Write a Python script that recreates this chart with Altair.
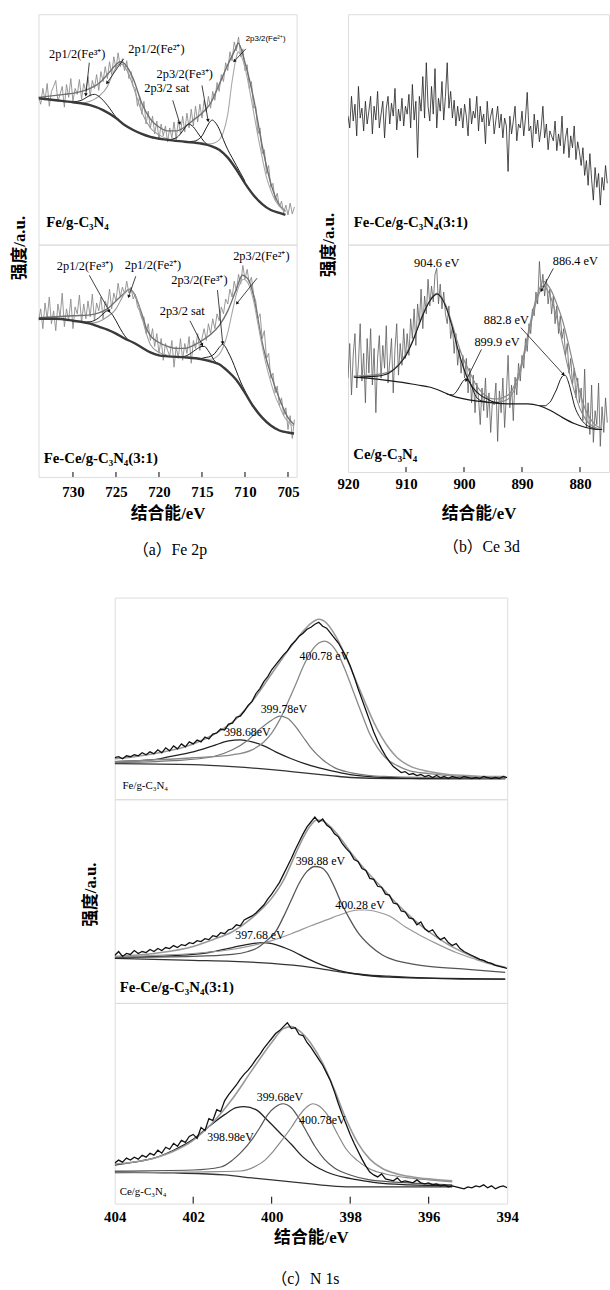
import math
import altair as alt
import pandas as pd

SERIF = "Liberation Serif, Noto Sans CJK SC"
SANS = "Liberation Sans, Noto Sans CJK SC"

# ---------------- (a) Fe 2p ----------------
A_DOMAIN = [734, 704]
A_TICKS = [730, 725, 720, 715, 710, 705]
A_RAW_START, A_RAW_STEP = 734.0, 0.25
A1_RAW = [150, 142, 158, 146, 163, 140, 155, 160, 166, 145, 152, 160, 139, 162, 149, 168, 145, 158, 152, 167,
          147, 163, 155, 170, 150, 166, 158, 172,
          156, 175, 165, 180, 168, 185, 172, 190, 178, 194, 180, 188, 176,
          186, 168, 175, 160, 158, 140, 150, 132,
          145, 122, 135, 118, 130, 112, 125, 106, 122, 110, 120, 104,
          118, 108, 124, 106, 126, 112, 130, 114, 133, 118, 137, 120, 140, 124, 142, 128,
          146, 134, 150, 138, 155, 146, 164, 155, 172, 165, 184, 176, 195, 186, 205, 196,
          210, 190, 198, 176, 182, 158, 165, 138,
          140, 112, 118, 92, 96, 72, 80, 58,
          62, 45, 52, 38, 44, 32, 40, 30, 42, 31, 38]
A1_BG = [(734, 148), (732, 146), (730, 144), (728, 141), (726.5, 136), (725, 128), (724, 121), (723, 116), (722, 112),
         (721, 109), (719, 106), (717, 104), (715, 102), (714, 100), (713, 96), (712, 88), (711, 76), (710, 62),
         (709, 50), (708, 41), (707, 35), (706, 32), (705.3, 30)]
A1_ENV = [(734, 149), (733, 150), (732, 151), (731, 152), (730, 153), (729, 155), (728, 158), (727, 163), (726, 172),
          (725, 182), (724.5, 185), (724, 183), (723, 168), (722, 143), (721, 127), (720, 119), (719, 115), (718, 115),
          (717, 119), (716, 126), (715, 133), (714, 143), (713, 162), (712, 182), (711, 200), (710.8, 204), (710, 184),
          (709, 148), (708, 100), (707, 62), (706, 40), (705.3, 34)]
A1_FE3_12 = [(731, 145), (730, 144.5), (729, 146), (728.5, 148.5), (728, 151), (727.5, 152), (727, 150), (726.5, 146),
             (726, 141), (725.5, 135), (725, 129), (724, 121.5)]
A1_FE2_12 = [(729, 143), (728, 145), (727, 150), (726, 160), (725.5, 170), (725, 179), (724.5, 183), (724, 180),
             (723.5, 172), (723, 160), (722.5, 147), (722, 134), (721, 118), (720, 111), (719, 107), (718, 105)]
A1_SAT = [(719, 106), (718, 108), (717.5, 112), (717, 118), (716.6, 122), (716, 119), (715.5, 113), (715, 107),
          (714.5, 102), (714, 100)]
A1_FE3_32 = [(717, 104), (716, 104.5), (715.5, 106), (715, 110), (714.5, 118), (714, 125), (713.8, 126), (713.5, 124),
             (713, 117), (712.5, 106), (712, 96), (711.5, 88), (711, 80), (710.5, 72), (710, 64)]
A1_FE2_32 = [(716, 104), (715, 103), (714, 102), (713, 106), (712.5, 114), (712, 132), (711.5, 165), (711, 190),
             (710.8, 195), (710.5, 192), (710, 179), (709.5, 158), (709, 134), (708.5, 110), (708, 88), (707.5, 68),
             (707, 55), (706.5, 45), (706, 39), (705.3, 33)]
A1_LABELS = [(729.5, 193, "2p1/2(Fe³⁺)"), (720.3, 198, "2p1/2(Fe²⁺)"), (717.0, 173, "2p3/2(Fe³⁺)"),
             (719.1, 158, "2p3/2 sat")]
A1_SMALL = [(707.6, 208, "2p3/2(Fe²⁺)")]
A1_LEADERS = [(728.1, 184, 728.5, 152), (724.1, 188, 726.0, 164), (718.4, 146, 717.6, 123),
              (715.0, 161, 714.3, 126), (709.9, 198, 711.2, 186)]

A2_RAW = [158, 170, 150, 176, 160, 182, 155, 168, 148, 175, 162, 186, 152, 170, 158, 180, 150, 172, 165, 184,
          156, 175, 160, 178, 162, 185, 158, 176,
          168, 182, 160, 178, 172, 190, 170, 186, 178, 196, 182, 192, 185,
          198, 186, 192, 180, 185, 172, 168, 160,
          162, 145, 155, 138, 150, 132, 145, 125, 140, 118, 135, 128,
          122, 138, 111, 132, 120, 140, 118, 135, 125, 142, 115, 138, 130, 145, 128, 140,
          150, 138, 155, 145, 160, 150, 165, 158, 172, 165, 180, 175, 190, 182, 198, 188,
          205, 195, 214, 200, 210, 196, 202, 185,
          178, 160, 165, 140, 148, 120, 125, 100,
          105, 85, 92, 72, 80, 62, 70, 48, 62, 39, 58]
A2_BG = [(734, 160), (732, 160), (730, 158), (728, 155), (727, 152), (726, 149), (725, 145), (724, 140), (723, 136),
         (722, 131), (721, 126), (720, 123), (719, 122), (717, 121), (715, 119), (714, 117), (713, 114), (712, 107),
         (711, 98), (710, 85), (709, 71), (708, 60), (707, 52), (706, 47), (705, 45), (704.3, 44)]
A2_ENV = [(734, 161), (732, 162), (730, 163), (728, 164), (727, 166), (726, 170), (725, 178), (724, 186), (723.4, 190),
          (723, 187), (722, 165), (721.5, 151), (721, 143), (720, 136), (719, 132), (718, 130), (717, 130), (716, 133),
          (715, 138), (714, 144), (713, 153), (712, 168), (711, 190), (710.3, 204), (710, 203), (709.5, 198),
          (709, 183), (708.5, 160), (708, 136), (707, 104), (706, 79), (705, 60), (704.3, 53)]
A2_FE3_12 = [(729, 156.5), (728, 157), (727, 161), (726.5, 165), (726, 168), (725.5, 165), (725, 158), (724.5, 150),
             (724, 143), (723.5, 138), (723, 136)]
A2_FE2_12 = [(728, 155.5), (727, 157), (726, 162), (725, 170), (724.5, 178), (724, 186), (723.4, 190), (723, 187),
             (722.5, 178), (722, 162), (721.5, 146), (721, 134), (720, 126), (719, 123)]
A2_SAT = [(718, 121), (717, 122), (716.5, 124), (716, 127), (715.5, 130), (715, 132), (714.7, 132), (714.3, 128),
          (714, 124), (713.5, 117), (713, 114)]
A2_FE3_32 = [(715.5, 119.5), (715, 120), (714.5, 121), (714, 122), (713.5, 125), (713, 131), (712.6, 134),
             (712.3, 132), (712, 127), (711.5, 118), (711, 107), (710.5, 96), (710, 87), (709.5, 78), (709, 71)]
A2_FE2_32 = [(715, 119), (714, 119), (713, 124), (712.5, 132), (712, 146), (711.5, 166), (711, 185), (710.5, 197),
             (710.2, 200), (709.8, 198), (709.3, 188), (709, 178), (708.5, 155), (708, 132), (707.5, 112), (707, 96),
             (706.5, 82), (706, 72), (705.5, 62), (705, 56), (704.3, 51)]
A2_LABELS = [(728.6, 213, "2p1/2(Fe³⁺)"), (720.7, 214, "2p1/2(Fe²⁺)"), (708.1, 223, "2p3/2(Fe²⁺)"),
             (715.3, 199, "2p3/2(Fe³⁺)"), (717.3, 168, "2p3/2 sat")]
A2_LEADERS = [(728.1, 204, 725.8, 168), (722.7, 203, 723.5, 183), (713.2, 189, 712.6, 136),
              (716.4, 158, 715.0, 134), (708.6, 201, 710.9, 176)]

# ---------------- (b) Ce 3d ----------------
B_DOMAIN = [920, 875]
B_TICKS = [920, 910, 900, 890, 880]
B_RAW_START, B_RAW_STEP = 920.0, 0.3
B1_RAW = [130, 118, 150, 125, 142, 110, 160, 128, 138, 115, 145, 122, 135, 150, 112, 140, 126, 155, 118, 132,
          145, 108, 138, 150, 122, 143, 130, 158, 116, 137, 125, 148, 120, 140,
          132, 152, 118, 162, 126, 145, 88, 150, 135, 170, 128, 184, 140, 125, 160, 132, 178, 118, 148, 135,
          165, 126, 150, 184, 138, 155, 128, 146, 120, 140,
          125, 138, 118, 142, 130, 110, 148, 122, 135, 128, 150, 115, 140, 124, 132, 102, 145, 120, 130, 138,
          112, 126, 140, 118, 132, 108, 128,
          120, 74, 130, 112, 125, 140, 105, 122, 118, 135, 110, 128, 154, 115, 120, 98, 132, 112, 126, 104,
          118, 140, 108, 122, 96, 115, 110,
          105, 125, 95, 112, 100, 130, 92, 108, 118, 88, 110, 98, 120, 86, 104, 94,
          80, 98, 70, 85, 60, 92, 66, 45, 78, 58, 72, 40, 68, 55, 80, 62]
B2_RAW = [95, 130, 78, 118, 140, 85, 110, 150, 92, 120, 70, 135, 100, 145, 88, 125, 60, 115, 138, 95, 128, 105, 148, 90,
          112, 135, 80, 125, 150, 98, 130, 108, 145, 115,
          140, 118, 155, 135, 165, 128, 170, 150, 185, 145, 178, 160, 195, 168, 188, 172, 200,
          206, 170, 190, 165, 182, 160,
          150, 168, 135, 148, 120, 140, 108, 125, 100, 118,
          95, 115, 80, 105, 70, 98, 60, 90, 75, 48, 85, 62, 95, 55, 80, 40, 72,
          68, 90, 31, 82, 60, 95, 45, 78, 118, 65, 88, 52, 96, 78, 110, 92,
          118, 105, 135, 122, 150, 140, 165, 158, 182, 170, 213, 185, 200, 178,
          195, 170, 185, 160, 178, 150, 168, 140, 158, 135,
          145, 118, 130, 100, 115, 88, 105, 75, 95, 70,
          85, 52, 104, 45, 70, 38, 88, 30, 62, 48, 90, 26, 66, 40, 75, 50]
B2_BG = [(919, 96), (915, 94), (911, 91), (908, 88), (906, 86), (904, 82), (902, 77), (900, 74), (898, 72), (895, 70),
         (892, 69), (889, 69), (887, 67), (885, 62), (883, 55), (881, 49), (879, 45), (877, 43), (876.2, 43)]
B2_ENV = [(919, 97), (916, 98), (913, 101), (911, 111), (909, 131), (907, 161), (905, 180), (904.6, 181), (904, 178),
          (903, 167), (902, 149), (901, 129), (900, 113), (899, 101), (898, 89), (897, 81), (896, 76), (895, 74),
          (894, 74), (893, 76), (892, 80), (891, 92), (890, 112), (889, 139), (888, 166), (887, 185), (886.4, 193),
          (886, 192), (885, 184), (884, 170), (883, 153), (882, 130), (881, 104), (880, 80), (879, 62), (878, 52),
          (877, 46), (876.2, 44)]
B2_P904 = [(918, 96), (915, 97), (913, 100), (912, 104), (911, 110), (910, 118), (909, 130), (908, 145), (907, 160),
           (906, 172), (905, 179), (904.6, 180), (904, 177), (903, 165), (902, 146), (901, 123), (900, 104), (899, 90),
           (898, 82), (897, 77), (896, 74), (895, 71), (894, 70)]
B2_P899 = [(903, 79), (902, 78), (901.5, 80), (901, 84), (900.5, 89), (900, 93), (899.6, 94), (899, 91), (898.5, 84),
           (898, 77), (897, 72), (896, 71)]
B2_P886 = [(895, 70), (893, 72), (892, 76), (891, 88), (890, 108), (889, 135), (888, 162), (887, 181), (886.4, 188),
           (886, 187), (885, 176), (884, 156), (883, 130), (882, 104), (881, 82), (880, 64), (879, 53), (878, 47),
           (877, 44), (876.2, 43)]
B2_P882 = [(887, 67), (886, 67), (885.5, 69), (885, 72), (884.5, 78), (884, 84), (883.5, 92), (883, 97), (882.6, 98),
           (882, 91), (881.5, 80), (881, 68), (880, 55), (879, 48), (878, 45), (877, 43), (876.2, 43)]
B2_LABELS = [(904.7, 211, "904.6 eV"), (880.8, 213, "886.4 eV"), (892.7, 154, "882.8 eV"), (894.3, 131, "899.9 eV")]
B2_LEADERS = [(884.6, 206, 886.6, 184), (890.2, 146, 882.9, 99), (897.0, 124, 899.6, 93)]

# ---------------- (c) N 1s ----------------
C_DOMAIN = [404, 394]
C_TICKS = [404, 402, 400, 398, 396, 394]
C_RAW_START, C_RAW_STEP = 404.0, 0.1
C1_DATA = [42, 43, 41, 44, 43, 45, 44, 47, 45, 48, 46, 50, 47, 52, 49, 54, 51, 56, 53, 58,
           56, 60, 58, 63, 61, 66, 67, 71, 70, 76, 77, 83, 84, 89, 95, 99, 107, 112, 119, 124,
           131, 136, 141, 146, 150, 156, 160, 165, 168, 172, 174, 177, 179, 175, 173, 168, 163, 158, 151, 144,
           135, 124, 112, 101, 90, 79, 68, 59, 51, 44, 38, 33, 30, 27, 28, 25, 26, 24, 25, 23,
           24, 22, 24, 22, 23, 21, 23, 22, 21, 23, 22, 21, 22, 21, 23, 22, 21, 22, 21, 23, 22]
C1_ENV = [(404, 41), (403.5, 43), (403, 46), (402.5, 50), (402, 56), (401.5, 65), (401, 78), (400.5, 99), (400, 127),
          (399.5, 155), (399.2, 170), (399, 178), (398.8, 182), (398.6, 178), (398.4, 167), (398.2, 152), (398, 134),
          (397.8, 115), (397.6, 96), (397.4, 78), (397.2, 63), (397, 51), (396.8, 42), (396.5, 34), (396, 28),
          (395.5, 25), (395, 24), (394.5, 23), (394.05, 23)]
C1_P1 = [(404, 38), (402, 42), (401, 45), (400.5, 50), (400.2, 58), (400, 67), (399.8, 80), (399.6, 97), (399.4, 115),
         (399.2, 134), (399, 149), (398.8, 158), (398.65, 160), (398.5, 157), (398.3, 146), (398.1, 128),
         (397.9, 107), (397.7, 86), (397.5, 66), (397.3, 52), (397.1, 42), (396.8, 34), (396.5, 29), (396, 26),
         (395.5, 24), (395, 23), (394.05, 22)]
C1_P2 = [(404, 37), (402.5, 39), (401.5, 43), (401, 50), (400.6, 60), (400.3, 71), (400, 80), (399.8, 84), (399.6, 82),
         (399.4, 74), (399.2, 63), (399, 52), (398.7, 40), (398.4, 32), (398, 27), (397.5, 24), (397, 23), (396, 22),
         (394.05, 21)]
C1_P3 = [(404, 38), (403, 40), (402.5, 44), (402, 48), (401.5, 54), (401.1, 59), (400.8, 60), (400.5, 58), (400.2, 54),
         (399.9, 48), (399.5, 41), (399, 34), (398.5, 29), (398, 25), (397.5, 23), (397, 22), (396, 21), (394.05, 21)]
C1_BG = [(404, 36), (402, 35), (401, 33), (400, 30), (399.5, 28), (399, 26), (398.5, 24), (398, 22), (397, 21),
         (396, 21), (394.05, 21)]
C1_LABELS = [(398.66, 145, "400.78 eV"), (399.69, 91, "399.78eV"), (400.62, 68, "398.68eV")]

C2_DATA = [48, 52, 47, 50, 49, 53, 50, 52, 51, 54, 52, 55, 53, 56, 55, 58, 56, 59, 58, 61,
           60, 63, 62, 65, 64, 68, 67, 71, 70, 74, 75, 79, 78, 84, 86, 88, 91, 95, 99, 105,
           110, 116, 122, 130, 138, 146, 155, 163, 171, 178, 183, 188, 183, 186, 180, 177, 171, 168, 161, 156,
           152, 145, 143, 136, 134, 126, 125, 118, 117, 110, 109, 101, 100, 93, 92, 86, 85, 79, 82, 75,
           72, 74, 68, 64, 66, 61, 58, 60, 55, 52, 50, 48, 46, 44, 43, 41, 40, 38, 37, 36, 35]
C2_ENV = [(404, 47), (403, 50), (402, 57), (401.5, 64), (401, 72), (400.5, 86), (400, 106), (399.7, 124), (399.4, 150),
          (399.2, 167), (399, 180), (398.85, 185), (398.7, 184), (398.5, 178), (398.2, 164), (398, 153), (397.6, 134),
          (397.2, 117), (396.8, 100), (396.4, 85), (396, 72), (395.5, 59), (395, 49), (394.5, 41), (394.05, 36)]
C2_P1 = [(404, 46), (402, 47), (401, 49), (400.6, 52), (400.35, 56), (400.1, 64), (399.9, 72), (399.7, 87),
         (399.5, 104), (399.3, 121), (399.1, 133), (398.9, 138), (398.75, 137), (398.6, 132), (398.4, 117),
         (398.2, 99), (398, 84), (397.8, 71), (397.5, 58), (397.2, 49), (397, 45), (396.5, 40), (396, 37), (395, 34),
         (394.05, 31)]
C2_P2 = [(404, 46), (403, 48), (402, 50), (401.2, 53), (400.5, 58), (400, 63), (399.5, 70), (399, 78), (398.6, 84),
         (398.2, 90), (397.8, 94), (397.6, 94), (397.3, 92), (397, 88), (396.6, 77), (396.2, 68), (395.8, 60),
         (395.3, 51), (394.8, 44), (394.4, 39), (394.05, 36)]
C2_P3 = [(404, 45), (403, 47), (402, 49), (401.6, 51), (401, 56), (400.5, 60), (400.2, 61), (399.9, 59), (399.5, 53),
         (399.1, 45), (398.7, 38), (398.3, 33), (397.8, 29), (397, 26), (396, 25), (394.05, 24)]
C2_BG = [(404, 45), (403, 44), (402, 43), (401, 42), (400, 40), (399, 36), (398.5, 33), (398, 30), (397.5, 28),
         (397, 27), (396, 25), (395, 24), (394.05, 24)]
C2_LABELS = [(398.76, 143, "398.88 eV"), (397.75, 99, "400.28 eV"), (400.3, 69, "397.68 eV")]

C3_DATA = [41, 44, 42, 46, 44, 47, 45, 49, 47, 51, 49, 54, 51, 57, 55, 61, 58, 64, 62, 68,
           70, 66, 77, 74, 86, 84, 95, 93, 104, 110, 115, 120, 126, 131, 135, 140, 146, 151, 157, 162,
           167, 172, 175, 179, 183, 177, 178, 171, 170, 163, 158, 152, 146, 140, 132, 124, 113, 101, 90, 80,
           70, 61, 53, 45, 38, 32, 29, 27, 30, 25, 24, 23, 26, 22, 23, 22, 21, 24, 21, 20,
           21, 19, 20, 18, 19, 17, 18, 17, 16, 15, 17, 16, 18, 17, 19, 16, 18, 15, 17, 18, 16]
C3_ENV = [(404, 40), (403, 46), (402.5, 53), (402, 64), (401.5, 82), (401, 106), (400.5, 135), (400, 163), (399.7, 177),
          (399.5, 179), (399.3, 175), (399, 162), (398.7, 142), (398.4, 115), (398.1, 85), (397.8, 61), (397.5, 45),
          (397.2, 36), (396.8, 30), (396.4, 27), (396, 25), (395.4, 23)]
C3_P1 = [(404, 39), (403.5, 42), (403, 46), (402.5, 54), (402, 65), (401.6, 78), (401.2, 90), (400.9, 97), (400.7, 98),
         (400.4, 95), (400.1, 84), (399.8, 72), (399.5, 60), (399.2, 47), (398.9, 38), (398.6, 32), (398.2, 27),
         (397.8, 24), (397.3, 21), (396.5, 19), (395.4, 18)]
C3_P2 = [(404, 33), (402, 34), (401.3, 37), (401, 44), (400.8, 51), (400.5, 65), (400.3, 77), (400.1, 90), (399.9, 98),
         (399.72, 101), (399.5, 97), (399.3, 86), (399.1, 72), (398.9, 58), (398.66, 45), (398.4, 36), (398, 29),
         (397.5, 24), (396.5, 21), (395.4, 19)]
C3_P3 = [(404, 31), (402, 32), (400.8, 33), (400.4, 38), (400.17, 44), (400, 51), (399.8, 61), (399.5, 77), (399.3, 89),
         (399.1, 98), (398.96, 101), (398.8, 99), (398.6, 91), (398.33, 71), (398.1, 55), (397.83, 44), (397.5, 35),
         (397.1, 30), (396.5, 26), (396, 24), (395.4, 22)]
C3_BG = [(404, 32), (402.5, 31), (401.2, 29), (400.5, 26), (399.5, 22), (399, 20), (398.5, 18), (398, 17), (397, 17),
         (395.4, 17)]
C3_LABELS = [(399.79, 108, "399.68eV"), (398.71, 85, "400.78eV"), (401.05, 67, "398.98eV")]

SAMPLE_NAMES = {
    "a1": (733.1, 23, "Fe/g-C₃N₄"), "a2": (733.4, 19, "Fe-Ce/g-C₃N₄(3:1)"),
    "b1": (919.0, 23, "Fe-Ce/g-C₃N₄(3:1)"), "b2": (919.1, 18, "Ce/g-C₃N₄"),
    "c1": (403.8, 13, "Fe/g-C₃N₄"), "c2": (403.87, 16, "Fe-Ce/g-C₃N₄(3:1)"), "c3": (403.87, 12, "Ce/g-C₃N₄"),
}
Y_TITLE = "强度/a.u."
X_TITLE = "结合能/eV"
CAPTIONS = ["（a）Fe 2p", "（b）Ce 3d", "（c）N 1s"]


def raw_df(values, start, step):
    return pd.DataFrame({"E": [round(start - step * i, 3) for i in range(len(values))], "I": values})


def pts_df(points):
    return pd.DataFrame(points, columns=["E", "I"])


def panel(w, h, xdom, *, curves=(), texts=(), leaders=(), xaxis=None, yaxis=None, ticks=None, tick_len=5,
          captions=()):
    X = alt.X("E:Q", scale=alt.Scale(domain=xdom, nice=False, zero=False), axis=xaxis)
    Y = alt.Y("I:Q", scale=alt.Scale(domain=[0, h], nice=False, zero=False), axis=yaxis)
    px_per_e = w / abs(xdom[0] - xdom[1])
    layers = []
    for df, color, sw, interp in curves:
        layers.append(alt.Chart(df).mark_line(color=color, strokeWidth=sw, interpolate=interp, clip=True)
                      .encode(x=X, y=Y))
    if leaders:
        ldf = pd.DataFrame(leaders, columns=["E", "I", "E2", "I2"])
        layers.append(alt.Chart(ldf).mark_rule(color="#111", strokeWidth=0.8)
                      .encode(x=X, y=Y, x2="E2:Q", y2="I2:Q"))
        heads = []
        for e1, i1, e2, i2 in leaders:
            dx = -(e2 - e1) * px_per_e
            dy = -(i2 - i1)
            ang = (math.degrees(math.atan2(dx, -dy)) + 360) % 360
            heads.append((e2, i2, ang))
        hdf = pd.DataFrame(heads, columns=["E", "I", "ang"])
        layers.append(alt.Chart(hdf).mark_point(shape="triangle", filled=True, size=14, color="#111", opacity=1)
                      .encode(x=X, y=Y, angle=alt.Angle("ang:Q", scale=None)))
    if ticks:
        tdf = pd.DataFrame({"E": ticks})
        layers.append(alt.Chart(tdf).mark_rule(color="black", strokeWidth=1)
                      .encode(x=X, y=alt.value(h), y2=alt.value(h - tick_len)))
    for rows, size, weight, font, align in texts:
        tdf = pd.DataFrame(rows, columns=["E", "I", "t"])
        layers.append(alt.Chart(tdf).mark_text(font=font, fontSize=size, fontWeight=weight, align=align,
                                               baseline="middle", color="black")
                      .encode(x=X, y=Y, text="t:N"))
    for text, cx, cy in captions:
        cdf = pd.DataFrame({"t": [text]})
        layers.append(alt.Chart(cdf).mark_text(font=SERIF, fontSize=16, align="center", baseline="middle",
                                               color="black")
                      .encode(x=alt.value(cx), y=alt.value(cy), text="t:N"))
    return alt.layer(*layers).properties(width=w, height=h)


def yaxis(tx, ty):
    return alt.Axis(title=Y_TITLE, labels=False, ticks=False, domain=False, grid=False, titleX=tx, titleY=ty,
                    titleAngle=270, titleAlign="center", titleBaseline="middle", titleFont=SERIF,
                    titleFontSize=17, titleFontWeight="bold", titleColor="black")


def xaxis(values, pad, ty):
    return alt.Axis(values=values, format="d", title=X_TITLE, labels=True, ticks=False, domain=False, grid=False,
                    labelFont=SERIF, labelFontSize=15, labelFontWeight="bold", labelColor="black",
                    labelPadding=pad, labelFlush=False, labelOverlap=False, titleFont=SERIF, titleFontSize=17,
                    titleFontWeight="bold", titleColor="black", titleY=ty, titleBaseline="middle")


BOLD_NAME = lambda key: ([SAMPLE_NAMES[key]], 15, "bold", SERIF, "left")
SMALL_NAME = lambda key: ([SAMPLE_NAMES[key]], 11, "normal", SERIF, "left")

GRAY_RAW = "#8c8c8c"
ENV = "#707070"
COMP_G = "#9a9a9a"
BLACK = "#1a1a1a"
BGC = "#3a3a3a"

A_W = 261
a1 = panel(A_W, 233, A_DOMAIN,
           curves=[(raw_df(A1_RAW, A_RAW_START, A_RAW_STEP), GRAY_RAW, 0.9, "linear"),
                   (pts_df(A1_ENV), ENV, 1.4, "monotone"),
                   (pts_df(A1_FE2_12), COMP_G, 1.1, "monotone"),
                   (pts_df(A1_FE2_32), "#a8a8a8", 1.1, "monotone"),
                   (pts_df(A1_FE3_12), BLACK, 1.0, "monotone"),
                   (pts_df(A1_SAT), BLACK, 1.0, "monotone"),
                   (pts_df(A1_FE3_32), BLACK, 1.0, "monotone"),
                   (pts_df(A1_BG), BGC, 2.4, "monotone")],
           leaders=A1_LEADERS,
           texts=[(A1_LABELS, 12.5, "normal", SERIF, "center"),
                  (A1_SMALL, 8, "normal", SANS, "center"),
                  BOLD_NAME("a1")])
a2 = panel(A_W, 235, A_DOMAIN,
           curves=[(raw_df(A2_RAW, A_RAW_START, A_RAW_STEP), GRAY_RAW, 0.9, "linear"),
                   (pts_df(A2_ENV), ENV, 1.4, "monotone"),
                   (pts_df(A2_FE2_12), COMP_G, 1.1, "monotone"),
                   (pts_df(A2_FE2_32), "#a8a8a8", 1.1, "monotone"),
                   (pts_df(A2_FE3_12), BLACK, 1.0, "monotone"),
                   (pts_df(A2_SAT), BLACK, 1.0, "monotone"),
                   (pts_df(A2_FE3_32), BLACK, 1.0, "monotone"),
                   (pts_df(A2_BG), BGC, 2.4, "monotone")],
           leaders=A2_LEADERS,
           texts=[(A2_LABELS, 12.5, "normal", SERIF, "center"), BOLD_NAME("a2")],
           xaxis=xaxis(A_TICKS, 8, 37), yaxis=yaxis(-19, 3), ticks=A_TICKS, tick_len=5,
           captions=[(CAPTIONS[0], 133, 309)])

B_W = 264
b1 = panel(B_W, 233, B_DOMAIN,
           curves=[(raw_df(B1_RAW, B_RAW_START, B_RAW_STEP), "#202020", 0.8, "linear")],
           texts=[BOLD_NAME("b1")])
b2 = panel(B_W, 230, B_DOMAIN,
           curves=[(raw_df(B2_RAW, B_RAW_START, B_RAW_STEP), "#5a5a5a", 0.8, "linear"),
                   (pts_df(B2_ENV), "#8a8a8a", 1.2, "monotone"),
                   (pts_df(B2_P886), "#8a8a8a", 1.1, "monotone"),
                   (pts_df(B2_P904), BLACK, 1.1, "monotone"),
                   (pts_df(B2_P899), BLACK, 1.0, "monotone"),
                   (pts_df(B2_P882), BLACK, 1.0, "monotone"),
                   (pts_df(B2_BG), BLACK, 1.2, "monotone")],
           leaders=B2_LEADERS,
           texts=[(B2_LABELS, 12.5, "normal", SERIF, "center"), BOLD_NAME("b2")],
           xaxis=xaxis(B_TICKS, 5, 42), yaxis=yaxis(-20, 0), ticks=B_TICKS[1:], tick_len=5,
           captions=[(CAPTIONS[1], 135, 306)])

C_W = 397
c1 = panel(C_W, 204, C_DOMAIN,
           curves=[(pts_df(C1_BG), "#333", 1.3, "monotone"),
                   (pts_df(C1_P3), "#222", 1.3, "monotone"),
                   (pts_df(C1_P2), "#777", 1.2, "monotone"),
                   (pts_df(C1_P1), "#888", 1.3, "monotone"),
                   (pts_df(C1_ENV), "#999", 1.6, "monotone"),
                   (raw_df(C1_DATA, C_RAW_START, C_RAW_STEP), "#111", 1.3, "linear")],
           texts=[(C1_LABELS, 12, "normal", SERIF, "center"), SMALL_NAME("c1")])
c2 = panel(C_W, 206, C_DOMAIN,
           curves=[(pts_df(C2_BG), "#333", 1.3, "monotone"),
                   (pts_df(C2_P3), "#222", 1.3, "monotone"),
                   (pts_df(C2_P2), "#999", 1.2, "monotone"),
                   (pts_df(C2_P1), "#555", 1.3, "monotone"),
                   (pts_df(C2_ENV), "#999", 1.6, "monotone"),
                   (raw_df(C2_DATA, C_RAW_START, C_RAW_STEP), "#111", 1.3, "linear")],
           texts=[(C2_LABELS, 12, "normal", SERIF, "center"), BOLD_NAME("c2")],
           yaxis=yaxis(-24, 96))
c3 = panel(C_W, 203, C_DOMAIN,
           curves=[(pts_df(C3_BG), "#333", 1.3, "monotone"),
                   (pts_df(C3_P1), "#222", 1.3, "monotone"),
                   (pts_df(C3_P2), "#555", 1.2, "monotone"),
                   (pts_df(C3_P3), "#888", 1.2, "monotone"),
                   (pts_df(C3_ENV), "#999", 1.6, "monotone"),
                   (raw_df(C3_DATA, C_RAW_START, C_RAW_STEP), "#111", 1.3, "linear")],
           texts=[(C3_LABELS, 12, "normal", SERIF, "center"), SMALL_NAME("c3")],
           xaxis=xaxis(C_TICKS, 6, 34), ticks=C_TICKS[1:-1], tick_len=7,
           captions=[(CAPTIONS[2], 193, 279)])

spacer = alt.Chart(pd.DataFrame({"v": [0]})).mark_point(opacity=0).encode(
    x=alt.value(0), y=alt.value(0)).properties(width=42, height=10,
                                                view=alt.ViewBackground(stroke="transparent"))

colA = alt.vconcat(a1, a2, spacing=0, bounds="flush")
colB = alt.vconcat(b1, b2, spacing=0, bounds="flush")
row1 = alt.hconcat(colA, colB, spacing=18)
colC = alt.vconcat(c1, c2, c3, spacing=0, bounds="flush")
row2 = alt.hconcat(spacer, colC, spacing=0)

chart = alt.vconcat(row1, row2, spacing=35,
                    padding={"left": 10, "top": 6, "right": 0, "bottom": 0}).configure_view(
    stroke="black", strokeWidth=1.2).configure(background="white")

chart.save("out.html", embed_options={"renderer": "svg", "actions": False})
